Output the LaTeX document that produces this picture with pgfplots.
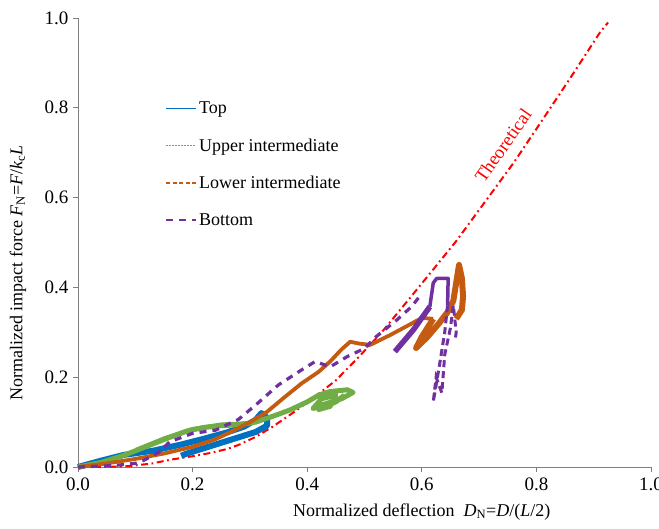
\documentclass[border=0pt]{standalone}
\usepackage{fontspec}
\setmainfont{Liberation Serif}
\usepackage{pgfplots}
\pgfplotsset{compat=1.18}
\definecolor{cblue}{RGB}{0,112,192}
\definecolor{cgreen}{RGB}{112,173,71}
\definecolor{corange}{RGB}{197,90,17}
\definecolor{cpurple}{RGB}{112,48,160}
\definecolor{axgray}{RGB}{128,128,128}
\begin{document}
\begin{tikzpicture}
\path[use as bounding box] (-78pt,-61pt) rectangle (581pt,467pt);
\begin{axis}[
  scale only axis, width=573pt, height=449pt,
  xmin=0, xmax=1, ymin=0, ymax=1,
  clip=false,
  axis lines=left,
  axis line style={draw=axgray, line width=0.8pt, -},
  tick align=outside,
  tick style={draw=axgray, line width=0.8pt},
  major tick length=5pt,
  xtick={0,0.2,0.4,0.6,0.8,1},
  ytick={0,0.2,0.4,0.6,0.8,1},
  /pgf/number format/fixed,
  /pgf/number format/fixed zerofill,
  /pgf/number format/precision=1,
  /pgf/number format/assume math mode=true,
  xticklabel style={font=\fontsize{19}{22}\selectfont, yshift=-2pt},
  yticklabel style={font=\fontsize{19}{22}\selectfont, xshift=-1pt},
  xlabel={Normalized deflection \ \textit{D}\textsubscript{N}=\textit{D}/(\textit{L}/2)},
  xlabel style={font=\fontsize{18}{21}\selectfont, at={(axis description cs:0.6,-0.100)}, anchor=center},
  ylabel={Normalized impact force \textit{F}\textsubscript{N}=\textit{F}/\textit{k}\textsubscript{c}\textit{L}},
  ylabel style={font=\fontsize{18}{21}\selectfont, at={(axis description cs:-0.105,0.432)}, anchor=center, rotate=0},
  legend cell align=left,
  legend image code/.code={\draw[#1] (0pt,0pt) -- (30pt,0pt);},
  legend style={at={(axis cs:0.152,0.818)}, anchor=north west, draw=none, fill=none,
    font=\fontsize{18}{21}\selectfont, row sep=19.5pt, inner sep=0pt},
]
\addlegendimage{cblue, line width=1.8pt}
\addlegendentry{Top}
\addlegendimage{cgreen, line width=1.4pt, dash pattern=on 1.4pt off 1.6pt}
\addlegendentry{Upper intermediate}
\addlegendimage{corange, line width=1.8pt, dash pattern=on 4pt off 2.5pt}
\addlegendentry{Lower intermediate}
\addlegendimage{cpurple, line width=1.8pt, dash pattern=on 7pt off 6pt}
\addlegendentry{Bottom}

% Theoretical
\addplot[forget plot, red, line width=2pt, dash pattern=on 7pt off 3.5pt on 1.8pt off 3.5pt] coordinates {
(0,0) (0.05,0.0005) (0.09,0.002) (0.13,0.008) (0.16,0.016) (0.2,0.024) (0.23,0.031) (0.26,0.04) (0.28,0.049) (0.31,0.067) (0.34,0.09) (0.38,0.125) (0.42,0.163) (0.45,0.193) (0.49,0.245) (0.53,0.30) (0.57,0.362) (0.62,0.44) (0.66,0.503) (0.71,0.59) (0.76,0.677) (0.81,0.772) (0.86,0.868) (0.91,0.966) (0.925,0.99)
};
\node[red, rotate=55, font=\fontsize{18.5}{21}\selectfont] at (axis cs:0.742,0.716) {Theoretical};

% Top
\addplot[forget plot, cblue, line width=6pt, line join=round] coordinates {
(0,0) (0.04,0.014) (0.08,0.027) (0.13,0.036) (0.18,0.05) (0.22,0.063) (0.26,0.077) (0.29,0.09) (0.31,0.105) (0.32,0.12) (0.33,0.11) (0.33,0.092) (0.31,0.078) (0.28,0.066) (0.25,0.054) (0.22,0.042) (0.19,0.03) (0.18,0.025)
};
% Upper intermediate
\addplot[forget plot, cgreen, line width=5pt, line join=round] coordinates {
(0,0) (0.04,0.01) (0.08,0.026) (0.12,0.046) (0.16,0.066) (0.19,0.08) (0.22,0.088) (0.25,0.092) (0.28,0.094) (0.31,0.1) (0.34,0.113) (0.37,0.127) (0.40,0.145) (0.42,0.16) (0.44,0.168) (0.47,0.172) (0.48,0.166) (0.46,0.152) (0.43,0.14) (0.41,0.13) (0.425,0.152) (0.45,0.16) (0.44,0.135) (0.42,0.128) (0.45,0.145) (0.465,0.16)
};
\addplot[forget plot, cgreen, line width=2pt, line join=round] coordinates {
(0.1,0.04) (0.15,0.066) (0.2,0.087) (0.25,0.097) (0.3,0.1)
};
% Lower intermediate
\addplot[forget plot, corange, line width=3.8pt, line join=round] coordinates {
(0,0) (0.05,0.008) (0.1,0.018) (0.15,0.03) (0.2,0.045) (0.24,0.062) (0.27,0.08) (0.3,0.1) (0.33,0.123) (0.36,0.155) (0.39,0.186) (0.42,0.212) (0.44,0.235) (0.46,0.262) (0.475,0.279) (0.49,0.275) (0.51,0.272) (0.545,0.294) (0.58,0.318) (0.6,0.332) (0.62,0.33)
};
\addplot[forget plot, corange, line width=6pt, line join=round] coordinates {
(0.62,0.33) (0.6,0.29) (0.59,0.265) (0.61,0.29) (0.63,0.32) (0.645,0.345) (0.655,0.37) (0.66,0.41) (0.665,0.45) (0.67,0.42) (0.672,0.38) (0.67,0.35) (0.66,0.33)
};
% Bottom
\addplot[forget plot, cpurple, line width=3.2pt, dash pattern=on 7pt off 6pt] coordinates {
(0,0) (0.06,0.003) (0.1,0.008) (0.115,0.015) (0.14,0.032) (0.16,0.056) (0.2,0.075) (0.24,0.082) (0.28,0.106) (0.31,0.138) (0.35,0.183) (0.39,0.216) (0.414,0.235) (0.44,0.223) (0.47,0.246) (0.5,0.264) (0.52,0.29) (0.556,0.327) (0.582,0.357) (0.595,0.378)
};
\addplot[forget plot, cpurple, line width=5.5pt, line join=round] coordinates {
(0.553,0.257) (0.585,0.305) (0.614,0.357)
};
\addplot[forget plot, cpurple, line width=3.5pt, line join=round] coordinates {
(0.614,0.357) (0.62,0.41) (0.626,0.42) (0.646,0.42) (0.645,0.36)
};
\addplot[forget plot, cpurple, line width=3pt, dash pattern=on 7pt off 4pt] coordinates {
(0.645,0.36) (0.64,0.30) (0.63,0.22) (0.62,0.145) (0.625,0.2) (0.635,0.165) (0.64,0.25) (0.65,0.31) (0.655,0.36) (0.66,0.3) (0.658,0.28)
};
\end{axis}
\end{tikzpicture}
\end{document}
